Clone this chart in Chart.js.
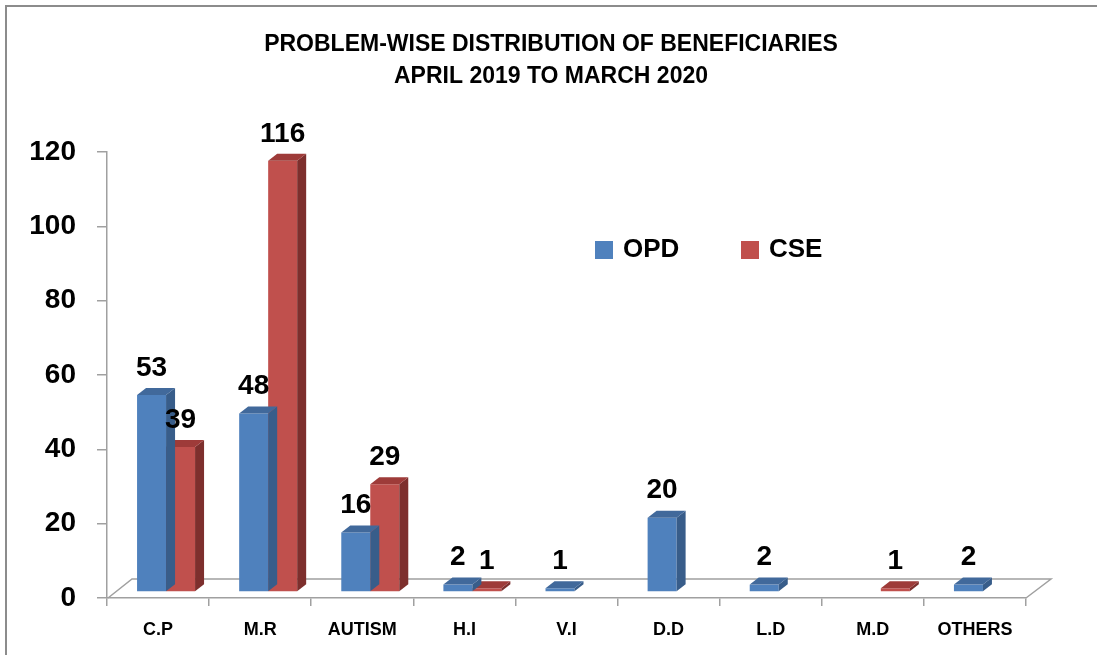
<!DOCTYPE html>
<html>
<head>
<meta charset="utf-8">
<title>Problem-wise distribution of beneficiaries</title>
<script src="https://cdn.jsdelivr.net/npm/chart.js@4"></script>
<style>
    html, body { margin: 0; padding: 0; background: #fff; overflow: hidden; }
    canvas { display: block; }
</style>
</head>
<body>
<canvas id="chart" width="1097" height="655"></canvas>
<script>
// data
const categories = ["C.P", "M.R", "AUTISM", "H.I", "V.I", "D.D", "L.D", "M.D", "OTHERS"];
const opdValues = [53, 48, 16, 2, 1, 20, 2, 0, 2];
const cseValues = [39, 116, 29, 1, 0, 0, 0, 1, 0];
const seriesNames = ["OPD", "CSE"];
const titleLines = ["PROBLEM-WISE DISTRIBUTION OF BENEFICIARIES", "APRIL 2019 TO MARCH 2020"];

const FONT = "'Liberation Sans', Arial, sans-serif";
const frontColors = ["#4f81bd", "#c0504d"];
const sideColors = ["#385d8a", "#7d2f2d"];
const topColors = ["#41699b", "#9e3b39"];

// 3d look: bars stand a third into the floor
const SHIFT_X = 8, SHIFT_Y = -6;
const DEPTH_X = 9, DEPTH_Y = -7;
const FLOOR_X = 25, FLOOR_Y = -19;

const threeD = {
    id: "threeD",
    beforeDraw(chart) {
        // grey frame, only left and top show in the picture
        const ctx = chart.ctx;
        ctx.save();
        ctx.strokeStyle = "#8c8c8c";
        ctx.lineWidth = 2;
        ctx.beginPath();
        ctx.moveTo(6, chart.height);
        ctx.lineTo(6, 6);
        ctx.lineTo(chart.width, 6);
        ctx.stroke();
        ctx.restore();
    },
    beforeDatasetsDraw(chart) {
        const { ctx, chartArea: a } = chart;
        // floor outline
        ctx.save();
        ctx.strokeStyle = "#a0a0a0";
        ctx.lineWidth = 1.5;
        ctx.beginPath();
        ctx.moveTo(a.left + 1, a.bottom);
        ctx.lineTo(a.left + FLOOR_X, a.bottom + FLOOR_Y);
        ctx.lineTo(a.right + FLOOR_X, a.bottom + FLOOR_Y);
        ctx.lineTo(a.right, a.bottom);
        ctx.stroke();
        ctx.restore();

        ctx.save();
        ctx.translate(SHIFT_X, SHIFT_Y);
    },
    afterDatasetDraw(chart, args) {
        const ctx = chart.ctx;
        const values = chart.data.datasets[args.index].data;
        args.meta.data.forEach((bar, i) => {
            if (!values[i]) return;
            const p = bar.getProps(["x", "y", "base", "width"], true);
            const l = p.x - p.width / 2, r = p.x + p.width / 2;
            // side face
            ctx.fillStyle = sideColors[args.index];
            ctx.beginPath();
            ctx.moveTo(r, p.base);
            ctx.lineTo(r + DEPTH_X, p.base + DEPTH_Y);
            ctx.lineTo(r + DEPTH_X, p.y + DEPTH_Y);
            ctx.lineTo(r, p.y);
            ctx.closePath();
            ctx.fill();
            // top face
            ctx.fillStyle = topColors[args.index];
            ctx.beginPath();
            ctx.moveTo(l, p.y);
            ctx.lineTo(l + DEPTH_X, p.y + DEPTH_Y);
            ctx.lineTo(r + DEPTH_X, p.y + DEPTH_Y);
            ctx.lineTo(r, p.y);
            ctx.closePath();
            ctx.fill();
        });
    },
    afterDatasetsDraw(chart) {
        const ctx = chart.ctx;
        // value labels
        ctx.fillStyle = "#000";
        ctx.font = "bold 28px " + FONT;
        ctx.textAlign = "center";
        ctx.textBaseline = "middle";
        chart.data.datasets.forEach((ds, di) => {
            chart.getDatasetMeta(di).data.forEach((bar, i) => {
                if (!ds.data[i]) return;
                ctx.fillText(String(ds.data[i]), bar.x, bar.y - 27);
            });
        });
        ctx.restore();
    },
    afterDraw(chart) {
        const ctx = chart.ctx;
        ctx.save();
        // title
        ctx.fillStyle = "#000";
        ctx.font = "bold 23px " + FONT;
        ctx.textAlign = "center";
        ctx.textBaseline = "middle";
        titleLines.forEach((t, i) => ctx.fillText(t, 551, 45 + i * 32));

        // legend inside the plot
        const legendX = [595, 741];
        ctx.font = "bold 26px " + FONT;
        ctx.textAlign = "left";
        seriesNames.forEach((name, i) => {
            ctx.fillStyle = frontColors[i];
            ctx.fillRect(legendX[i], 241, 18, 18);
            ctx.fillStyle = "#000";
            ctx.fillText(name, legendX[i] + 28, 250);
        });
        ctx.restore();
    }
};

const canvas = document.getElementById("chart");
new Chart(canvas.getContext("2d"), {
    type: "bar",
    data: {
        labels: categories,
        datasets: [
            { label: seriesNames[0], data: opdValues, backgroundColor: frontColors[0] },
            { label: seriesNames[1], data: cseValues, backgroundColor: frontColors[1] }
        ]
    },
    options: {
        responsive: false,
        animation: false,
        layout: { padding: { top: 152, right: 71, left: 0, bottom: 0 } },
        datasets: { bar: { categoryPercentage: 0.568, barPercentage: 1.0, borderWidth: 0 } },
        plugins: { legend: { display: false }, title: { display: false }, tooltip: { enabled: false } },
        scales: {
            x: {
                grid: { offset: true, drawOnChartArea: false, tickLength: 8, color: "#a0a0a0", lineWidth: 1.5 },
                border: { color: "#a0a0a0", width: 1.5 },
                ticks: { color: "#000", font: { family: FONT, size: 18, weight: "bold" }, padding: 13, maxRotation: 0, autoSkip: false },
                afterFit(s) { s.height = 57; }
            },
            y: {
                min: 0,
                max: 120,
                grid: { drawOnChartArea: false, tickLength: 10, color: "#a0a0a0", lineWidth: 1.5 },
                border: { color: "#a0a0a0", width: 1.5 },
                ticks: { stepSize: 20, color: "#000", font: { family: FONT, size: 28, weight: "bold" }, padding: 21 },
                afterFit(s) { s.width = 107; }
            }
        }
    },
    plugins: [threeD]
});
</script>
</body>
</html>
